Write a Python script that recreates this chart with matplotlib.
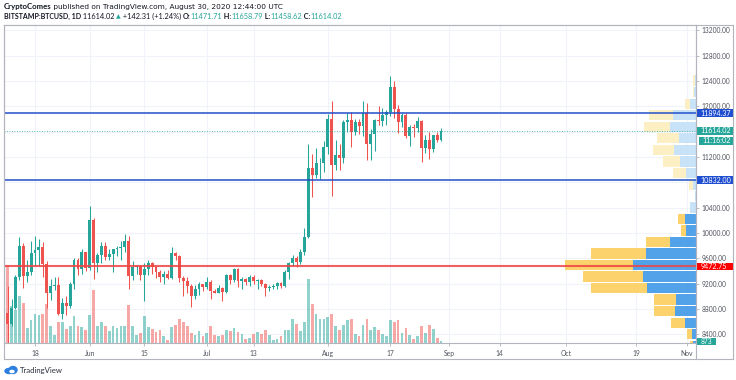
import matplotlib
matplotlib.use("Agg")
import matplotlib.pyplot as plt
import matplotlib.dates as mdates
from matplotlib.transforms import blended_transform_factory
from matplotlib.lines import Line2D
from matplotlib.patches import Ellipse, Rectangle
import numpy as np
import pandas as pd

# ---- data (BITSTAMP:BTCUSD, 1D) ----
dates = pd.date_range("2020-05-10", "2020-08-30", freq="D")

opens = [9550, 8730, 8570, 8810, 9310, 9790, 9320, 9380, 9680, 9730, 9780, 9510, 9060, 9170, 9180, 8720, 8900, 8840, 9200, 9570, 9430, 9700,
         9450, 10200, 9520, 9660, 9800, 9620, 9670, 9740, 9770, 9780, 9880, 9320, 9470, 9475, 9340, 9430, 9520, 9460, 9380, 9300, 9360, 9290, 9680, 9630, 9290, 9240, 9160, 9000, 9120, 9190,
         9140, 9230, 9090, 9060, 9130, 9070, 9340, 9250, 9430, 9240, 9280, 9230, 9300, 9240, 9250, 9190, 9130, 9150, 9170, 9210, 9160, 9390, 9530, 9610, 9540, 9700, 9930, 11030, 10920, 11100, 11110,
         11350, 11800, 11070, 11230, 11190, 11750, 11780, 11600, 11760, 11690, 11890, 11400, 11570, 11790, 11770, 11860, 11910, 12300, 11960, 11760, 11870, 11530, 11680, 11660, 11770, 11340, 11470, 11330, 11540, 11471.71]
highs = [9580, 9170, 8950, 9330, 9930, 9840, 9580, 9880, 9950, 9900, 9850, 9560, 9270, 9310, 9310, 8980, 9010, 9220, 9600, 9610, 9740, 9700,
         10420, 10230, 9690, 9860, 9850, 9740, 9740, 9800, 9880, 9990, 9950, 9560, 9490, 9480, 9520, 9580, 9540, 9480, 9420, 9400, 9410, 9780, 9700, 9660, 9320, 9300, 9190, 9180, 9230, 9200,
         9310, 9250, 9120, 9180, 9140, 9360, 9360, 9450, 9440, 9300, 9290, 9340, 9340, 9270, 9270, 9210, 9180, 9190, 9230, 9220, 9420, 9540, 9650, 9630, 9740, 10080, 11400, 11240, 11340, 11180, 11450,
         11880, 12080, 11470, 11410, 11780, 11900, 11910, 11800, 11800, 12080, 12060, 11640, 11800, 12000, 11980, 11940, 12480, 12400, 12020, 11890, 11890, 11700, 11720, 11830, 11780, 11540, 11590, 11550, 11590, 11658.79]
lows = [8120, 8200, 8530, 8800, 9260, 9130, 9220, 9330, 9480, 9480, 9300, 8820, 8940, 9100, 8700, 8640, 8700, 8810, 9110, 9330, 9360, 9400,
        9420, 9270, 9380, 9530, 9580, 9570, 9380, 9640, 9570, 9700, 9110, 9250, 9350, 9250, 8920, 9330, 9350, 9290, 9220, 9200, 9270, 9280, 9580, 9220, 9010, 9050, 8830, 8950, 9020, 9080,
        9110, 8950, 9050, 9050, 8930, 9060, 9200, 9230, 9150, 9110, 9180, 9160, 9200, 9110, 9170, 9010, 9090, 9120, 9110, 9130, 9150, 9280, 9480, 9460, 9510, 9650, 9920, 10570, 10870, 10850, 10970,
        11240, 10580, 11000, 11000, 11100, 11590, 11350, 11550, 11560, 11530, 11150, 11160, 11290, 11700, 11690, 11700, 11850, 11820, 11580, 11680, 11500, 11380, 11520, 11600, 11120, 11270, 11170, 11280, 11440, 11458.62]
closes = [8730, 8570, 8810, 9310, 9790, 9320, 9380, 9680, 9730, 9780, 9510, 9060, 9170, 9180, 8720, 8900, 8840, 9200, 9570, 9430, 9700, 9450,
          10200, 9520, 9660, 9800, 9620, 9670, 9740, 9770, 9780, 9880, 9320, 9470, 9475, 9340, 9430, 9520, 9460, 9380, 9300, 9360, 9290, 9680, 9630, 9290, 9240, 9160, 9000, 9120, 9190, 9140,
          9230, 9090, 9060, 9130, 9070, 9340, 9250, 9430, 9240, 9280, 9230, 9300, 9240, 9250, 9190, 9130, 9150, 9170, 9210, 9160, 9390, 9530, 9610, 9540, 9700, 9930, 11030, 10920, 11100, 11110, 11350,
          11800, 11070, 11230, 11190, 11750, 11780, 11600, 11760, 11690, 11890, 11400, 11570, 11790, 11770, 11860, 11910, 12300, 11960, 11760, 11870, 11530, 11680, 11660, 11770, 11340, 11470, 11330, 11540, 11471.71, 11614.02]
# daily volume, thousand BTC
volumes = [32.0, 31.2, 14.8, 13.2, 18.8, 16.0, 6.0, 9.2, 11.6, 11.2, 11.6, 15.6, 6.8, 3.2, 8.4, 8.4, 5.6, 6.8, 10.8, 6.8, 6.4, 5.2,
           11.2, 21.2, 6.8, 8.4, 6.8, 4.8, 6.8, 6.0, 6.8, 6.8, 15.2, 6.8, 3.2, 4.0, 10.8, 6.4, 5.6, 4.4, 5.2, 2.8, 1.2, 6.4, 7.2, 9.6, 8.4, 6.8, 4.0, 3.2, 4.8, 2.8,
           4.0, 6.8, 3.2, 2.8, 3.2, 5.2, 4.8, 6.0, 4.4, 3.6, 1.6, 2.0, 3.6, 4.4, 3.6, 5.2, 3.2, 1.2, 1.6, 2.8, 5.2, 5.2, 9.6, 7.6, 4.8, 8.4, 25.6, 15.6, 11.6, 9.6, 9.6,
           10.4, 11.6, 6.8, 5.2, 7.2, 9.2, 9.6, 3.6, 2.8, 7.2, 9.6, 5.2, 6.4, 5.2, 3.6, 2.8, 9.2, 8.4, 9.2, 4.0, 6.0, 3.2, 1.6, 2.8, 6.8, 4.0, 7.2, 5.6, 2.0, 0.873]

# visible range volume profile: 24 rows, thousand BTC (up = blue, down = yellow)
profile_low = 8128
profile_row = 182
profile_up = [2.4, 3.2, 9.0, 16.6, 15.8, 39.2, 42.6, 50.4, 40.0, 21.0, 7.8, 8.6,
              5.0, 0.8, 2.4, 7.8, 13.0, 17.8, 13.8, 21.0, 18.6, 4.6, 1.6, 1.2]
profile_down = [2.4, 4.0, 11.0, 17.4, 17.6, 44.8, 48.0, 54.2, 44.0, 19.4, 4.0, 5.8,
                0.0, 0.4, 3.4, 10.6, 13.6, 16.8, 17.4, 20.8, 19.2, 4.6, 0.8, 1.2]
value_area_rows = 12

level_top = 11894.37
level_bottom = 10832.00
poc_price = 9472.75
last_price = 11614.02
last_volume = "873"
countdown = "11:16:02"

price_ticks = [8400, 8800, 9200, 9600, 10000, 10400, 10800, 11200, 11600, 12000, 12400, 12800, 13200]
tick_dates = ["2020-05-18", "2020-06-01", "2020-06-15", "2020-07-01", "2020-07-13", "2020-08-01",
              "2020-08-17", "2020-09-01", "2020-09-14", "2020-10-01", "2020-10-19", "2020-11-01"]
tick_labels = ["18", "Jun", "15", "Jul", "13", "Aug", "17", "Sep", "14", "Oct", "19", "Nov"]

# ---- style ----
UP = "#26a69a"
DN = "#ef5350"
BLUE = "#2250c8"
FRAME = "#b2b5be"
TXT = "#50535e"
DARK = "#131722"
FONT = ["Lato", "DejaVu Sans"]
plt.rcParams["font.family"] = FONT

W, H = 736, 380
fig = plt.figure(figsize=(W / 100, H / 100), dpi=100)

def rect(x0, y0, x1, y1):
    return [x0 / W, 1 - y1 / H, (x1 - x0) / W, (y1 - y0) / H]

pos = rect(3.5, 25, 696, 343)
x = mdates.date2num(dates.to_pydatetime())
x_ref = mdates.date2num(pd.Timestamp("2020-05-18").to_pydatetime())
xlim = (x_ref - 8.07, x_ref + 169.3)
ylim = (8263, 13284)
px_per_price = 318 / (ylim[1] - ylim[0])

# grid layer
axg = fig.add_axes(pos)
axg.set_xlim(xlim)
axg.set_ylim(ylim)
tdn = mdates.date2num([pd.Timestamp(d).to_pydatetime() for d in tick_dates])
for t in tdn:
    axg.axvline(t, color="#f0f3fa", lw=0.8)
for p in price_ticks:
    axg.axhline(p, color="#f0f3fa", lw=0.8)
axg.axis("off")

# volume layer
axv = fig.add_axes(pos, sharex=axg)
axv.patch.set_visible(False)
o = np.array(opens); c = np.array(closes)
up = c >= o
axv.bar(x, volumes, width=0.7, color=np.where(up, UP, DN), alpha=0.5, linewidth=0)
axv.set_ylim(0, 127.2)
axv.axis("off")

# volume profile layer
axp = fig.add_axes(pos)
axp.patch.set_visible(False)
rows = profile_low + profile_row * (np.arange(len(profile_up)) + 0.5)
for i, (yv, u, d) in enumerate(zip(rows, profile_up, profile_down)):
    va = i < value_area_rows
    cu = "#52a2ea" if va else "#c8e2f8"
    cd = "#fcd26c" if va else "#fdefc4"
    axp.barh(yv, u, left=0, height=profile_row * 0.9, color=cu, linewidth=0)
    axp.barh(yv, d, left=u, height=profile_row * 0.9, color=cd, linewidth=0)
axp.set_xlim(554, 0)
axp.set_ylim(ylim)
axp.axis("off")

# price layer
ax = fig.add_axes(pos, sharex=axg)
ax.patch.set_visible(False)
col = np.where(up, UP, DN)
ax.vlines(x, lows, highs, colors=col, lw=0.75, zorder=3)
body_lo = np.minimum(o, c)
body_h = np.maximum(np.abs(c - o), 10)
ax.bar(x, body_h, bottom=body_lo, width=0.74, color=col, linewidth=0, zorder=4)

ax.axhline(level_top, color=BLUE, lw=1.1, zorder=6)
ax.axhline(level_bottom, color=BLUE, lw=1.1, zorder=6)
ax.axhline(poc_price, color="#ee4444", lw=1.5, alpha=0.85, zorder=6)
ax.axhline(last_price, color=UP, lw=0.6, ls=(0, (1, 2)), zorder=5)

ax.set_xlim(xlim)
ax.set_ylim(ylim)
ax.set_xticks(tdn)
ax.set_xticklabels(tick_labels)
ax.yaxis.tick_right()
ax.set_yticks(price_ticks)
ax.set_yticklabels(["" if p in (10800, 11600) else f"{p:.2f}" for p in price_ticks])
ax.tick_params(axis="x", length=2.5, width=0.6, color=FRAME, pad=2.5, labelsize=4.9, labelcolor=TXT)
ax.tick_params(axis="y", length=2.5, width=0.6, color=FRAME, pad=1.3, labelsize=4.8, labelcolor=TXT)
for s in ax.spines.values():
    s.set_color(FRAME)
    s.set_linewidth(0.8)

# right-side price tags (fixed-size boxes on the price scale)
tr = blended_transform_factory(ax.transAxes, ax.transData)
def tag(price, text, fc, x0=697, x1=732.7, hpx=7.7, size=5.1):
    a0 = (x0 - 3.5) / 692.5
    a1 = (x1 - 3.5) / 692.5
    hh = hpx / px_per_price
    ax.add_patch(Rectangle((a0, price - hh / 2), a1 - a0, hh, transform=tr, fc=fc, ec="none",
                           clip_on=False, zorder=9))
    ax.text(a0 + 3.5 / 692.5, price, text, transform=tr, ha="left", va="center", fontsize=size,
            color="white", zorder=10, clip_on=False)

tag(level_top, f"{level_top:.2f}", "#1f4fd0")
tag(last_price, f"{last_price:.2f}", UP)
tag(last_price - 10 / px_per_price, countdown, UP, x0=699.3)
tag(level_bottom, f"{level_bottom:.2f}", "#1f4fd0")
tag(poc_price, f"{poc_price:.2f}", "#ff0000")
tag(ylim[0] + 1.2 / px_per_price, last_volume, UP, x1=716, hpx=7.0, size=4.8)

# outer frame
for (x0, y0, x1, y1) in [(3.5, 25, 732.7, 25), (3.5, 359.3, 732.7, 359.3), (3.5, 25, 3.5, 359.3),
                         (732.7, 25, 732.7, 359.3), (696, 25, 696, 359.3)]:
    fig.add_artist(Line2D([x0 / W, x1 / W], [1 - y0 / H, 1 - y1 / H], color=FRAME, lw=0.8))

# header, laid out run by run
renderer = fig.canvas.get_renderer()
def runs(parts, px, py):
    cx = px
    for s, weight, color, size, family in parts:
        t = fig.text(cx / W, 1 - py / H, s, fontsize=size, fontweight=weight, color=color,
                     ha="left", va="center", family=family)
        cx += t.get_window_extent(renderer=renderer).width
    return cx

DV = ["DejaVu Sans"]
runs([("CryptoComes", "bold", DARK, 5.6, FONT),
      (" published on TradingView.com, August 30, 2020 12:44:00 UTC", "normal", DARK, 5.35, DV)],
     3.5, 6.5)
runs([("BITSTAMP:BTCUSD, 1D", "bold", DARK, 5.0, FONT),
      (" 11614.02 ", "normal", DARK, 5.3, FONT),
      ("▲", "normal", UP, 4.4, DV),
      (" +142.31 (+1.24%) ", "normal", DARK, 5.3, FONT),
      ("O:", "bold", DARK, 5.3, FONT), ("11471.71", "normal", UP, 5.3, FONT),
      (" H:", "bold", DARK, 5.3, FONT), ("11658.79", "normal", UP, 5.3, FONT),
      (" L:", "bold", DARK, 5.3, FONT), ("11458.62", "normal", UP, 5.3, FONT),
      (" C:", "bold", DARK, 5.3, FONT), ("11614.02", "normal", UP, 5.3, FONT)],
     3.5, 16.5)

# footer logo
axl = fig.add_axes(rect(4, 365, 18, 375))
axl.set_xlim(0, 14); axl.set_ylim(0, 10); axl.axis("off")
axl.add_patch(Ellipse((5, 4), 8, 5, color="#2e7ee0"))
axl.add_patch(Ellipse((9, 5), 8, 7, color="#2e7ee0"))
axl.add_patch(Ellipse((8, 3.5), 4, 2.2, color="white"))
fig.text(19.5 / W, 1 - 370 / H, "TradingView", fontsize=5.6, color="#2a2e39", ha="left", va="center")

fig.savefig("out.png", dpi=100, facecolor="white")
